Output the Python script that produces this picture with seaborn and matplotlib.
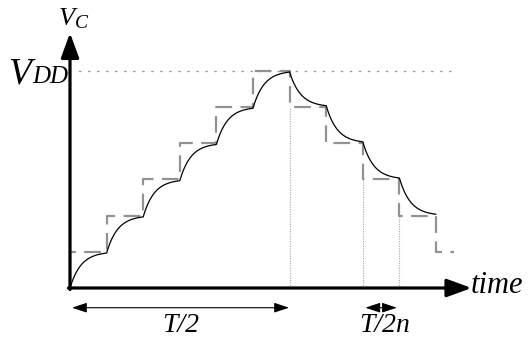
import numpy as np
import pandas as pd
import matplotlib
matplotlib.use("Agg")
import matplotlib.pyplot as plt
import seaborn as sns

# ---------------- data ----------------
# source (stepped supply) level for each step interval, in units of V_DD / n
n_levels = 6
step_starts = [0, 1, 2, 3, 4, 5, 6, 7, 8, 9, 10]
source_levels = [1, 2, 3, 4, 5, 6, 5, 4, 3, 2, 1]
last_step_end = 10.5          # the final (partial) supply step ends here
curve_end = 10                # the capacitor curve stops here
tau = 0.3                     # RC time constant, in step units
marker_times = [6, 8, 9]      # vertical dotted guides
label_vdd = "V"
label_vdd_sub = "DD"
label_vc = "V"
label_vc_sub = "C"
label_time = "time"
label_half = "T/2"
label_step = "T/2n"

# ---------------- derived tables ----------------
stair_t = [0] + step_starts + [last_step_end]
stair_v = [0] + [l / n_levels for l in source_levels] + [source_levels[-1] / n_levels]
stairs = pd.DataFrame({"t": stair_t, "v": stair_v})

ts, vs = [], []
v0 = 0.0
for k, lvl in zip(step_starts, source_levels):
    if k >= curve_end:
        break
    target = lvl / n_levels
    tt = np.linspace(k, k + 1, 120)
    vv = target + (v0 - target) * np.exp(-(tt - k) / tau)
    ts.extend(tt)
    vs.extend(vv)
    v0 = vv[-1]
curve = pd.DataFrame({"t": ts, "v": vs})

# ---------------- figure ----------------
sns.set_style("white")
plt.rcParams["font.family"] = ["Liberation Serif", "DejaVu Serif"]

W, H = 529, 343
fig = plt.figure(figsize=(W / 100, H / 100), dpi=100)
ax = fig.add_axes([0, 0, 1, 1])
# pixel mapping: x_px = 70 + 36.6 t ; y_px = 288 - 217.3 v
sx, ox = 36.6, 70.0
sy, oy = 217.3, 288.0
ax.set_xlim(-ox / sx, (W - ox) / sx)
ax.set_ylim(-(H - oy) / sy, oy / sy)
ax.axis("off")

# V_DD dotted reference line
vdd = 1.0
ax.plot([0.25, 10.42], [vdd, vdd], color="#9a9a9a", lw=1.0,
        linestyle=(0, (1, 5.5)), solid_capstyle="round", dash_capstyle="round")

# vertical dotted guides
for mt in marker_times:
    lvl = source_levels[step_starts.index(mt)] / n_levels
    ax.plot([mt, mt], [0, lvl], color="#a8a8a8", lw=0.8, linestyle=(0, (1, 1.2)))

# staircase supply (dashed grey)
sns.lineplot(data=stairs, x="t", y="v", ax=ax, sort=False, estimator=None,
             drawstyle="steps-post", color="#929292", lw=1.6,
             linestyle=(0, (7.5, 3.8)))

# capacitor voltage (solid black)
sns.lineplot(data=curve, x="t", y="v", ax=ax, sort=False, estimator=None,
             color="black", lw=0.9)

# axes with arrows
ax.annotate("", xy=(0, (oy - 33) / sy), xytext=(0, -1.5 / sy),
            arrowprops=dict(arrowstyle="-|>,head_length=1.5,head_width=0.55",
                            mutation_scale=10, lw=2.3, color="black",
                            shrinkA=0, shrinkB=0))
ax.annotate("", xy=((471.5 - ox) / sx, 0), xytext=(-1.5 / sx, 0),
            arrowprops=dict(arrowstyle="-|>,head_length=1.5,head_width=0.55",
                            mutation_scale=10, lw=2.3, color="black",
                            shrinkA=0, shrinkB=0))

# dimension arrows
yd = -(307.7 - oy) / sy
ax.annotate("", xy=((289 - ox) / sx, yd), xytext=((72 - ox) / sx, yd),
            arrowprops=dict(arrowstyle="<|-|>,head_length=0.9,head_width=0.3",
                            mutation_scale=10, lw=0.8, color="black",
                            shrinkA=0, shrinkB=0))
ax.annotate("", xy=(8.93, yd), xytext=(8.07, yd),
            arrowprops=dict(arrowstyle="<|-|>,head_length=0.9,head_width=0.3",
                            mutation_scale=10, lw=0.8, color="black",
                            shrinkA=0, shrinkB=0))

def px(x, y):
    return (x - ox) / sx, (oy - y) / sy

it = dict(style="italic", va="baseline", color="black")
ax.text(*px(8, 83), label_vdd, fontsize=27, ha="left", **it)
ax.text(*px(32, 83), label_vdd_sub, fontsize=18, ha="left", **it)
ax.text(*px(59, 25), label_vc, fontsize=19, ha="left", **it)
ax.text(*px(74.5, 28), label_vc_sub, fontsize=14, ha="left", **it)
ax.text(*px(471, 293), label_time, fontsize=22, ha="left", **it)
ax.text(*px(181, 332), label_half, fontsize=20, ha="center", **it)
ax.text(*px(385, 332), label_step, fontsize=20, ha="center", **it)

fig.savefig("out.png", dpi=100)
